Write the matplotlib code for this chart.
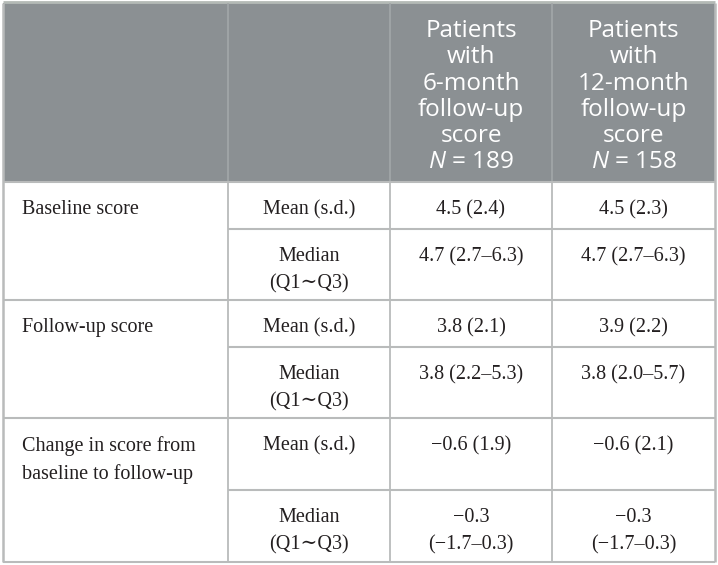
import matplotlib
matplotlib.use("Agg")
import matplotlib.pyplot as plt
from matplotlib.patches import Rectangle

# table content
header_6m = "Patients\nwith\n6-month\nfollow-up\nscore\n$N$ = 189"
header_12m = "Patients\nwith\n12-month\nfollow-up\nscore\n$N$ = 158"
row_groups = ["Baseline score", "Follow-up score", "Change in score from\nbaseline to follow-up"]
stat_labels = ["Mean (s.d.)", "Median\n(Q1\u223cQ3)"]
six_month = ["4.5 (2.4)", "4.7 (2.7\u20136.3)",
             "3.8 (2.1)", "3.8 (2.2\u20135.3)",
             "\u22120.6 (1.9)", "\u22120.3\n(\u22121.7\u20130.3)"]
twelve_month = ["4.5 (2.3)", "4.7 (2.7\u20136.3)",
                "3.9 (2.2)", "3.8 (2.0\u20135.7)",
                "\u22120.6 (2.1)", "\u22120.3\n(\u22121.7\u20130.3)"]

# layout in pixels
W, H = 718, 565
col_x = [3, 228, 390, 552, 715]
head_top, head_bot = 3, 182
sub_rows = [182, 229, 300, 347, 418, 490, 562]

header_col = "#8b9093"
line_col = "#b9bbbb"
text_col = "#231f20"
serif = ["Liberation Serif", "DejaVu Serif"]

plt.rcParams["mathtext.fontset"] = "custom"
plt.rcParams["mathtext.it"] = "Open Sans:italic"
plt.rcParams["mathtext.rm"] = "Open Sans"

fig = plt.figure(figsize=(W / 100, H / 100), dpi=100)
ax = fig.add_axes([0, 0, 1, 1])
ax.set_xlim(0, W)
ax.set_ylim(H, 0)
ax.axis("off")

# header block
ax.add_patch(Rectangle((col_x[0], head_top), col_x[-1] - col_x[0], head_bot - head_top,
                       facecolor=header_col, edgecolor="none"))
ax.hlines(1.5, col_x[0], col_x[-1], color="#b4bab6", lw=2)
for x in col_x[1:-1]:
    ax.vlines(x, head_top, head_bot, color="#a3a7a9", lw=1.2)

# grid lines in body
for i, y in enumerate(sub_rows):
    x0 = col_x[0] if i % 2 == 0 else col_x[1]
    ax.hlines(y, x0, col_x[-1], color=line_col, lw=1.5)
for x in col_x:
    ax.vlines(x, head_bot if x not in (col_x[0], col_x[-1]) else head_top, sub_rows[-1],
              color=line_col, lw=1.8 if x in (col_x[0], col_x[-1]) else 1.3)

# header texts
for txt, (a, b) in [(header_6m, (col_x[2], col_x[3])), (header_12m, (col_x[3], col_x[4]))]:
    ax.text((a + b) / 2, 174, txt, ha="center", va="bottom", color="white",
            family="Open Sans", fontsize=17.5, linespacing=1.12)

pad = 18
fs = 14.5
ls = 1.58
for g, name in enumerate(row_groups):
    ax.text(22, sub_rows[2 * g] + pad, name, ha="left", va="top", color=text_col,
            family=serif, fontsize=fs, linespacing=ls)
    for s, lab in enumerate(stat_labels):
        top = sub_rows[2 * g + s]
        k = 2 * g + s
        ax.text((col_x[1] + col_x[2]) / 2, top + pad, lab, ha="center", va="top",
                color=text_col, family=serif, fontsize=fs, linespacing=ls)
        ax.text((col_x[2] + col_x[3]) / 2, top + pad, six_month[k], ha="center", va="top",
                color=text_col, family=serif, fontsize=fs, linespacing=ls)
        ax.text((col_x[3] + col_x[4]) / 2, top + pad, twelve_month[k], ha="center", va="top",
                color=text_col, family=serif, fontsize=fs, linespacing=ls)

fig.savefig("out.png", dpi=100, facecolor="white")
